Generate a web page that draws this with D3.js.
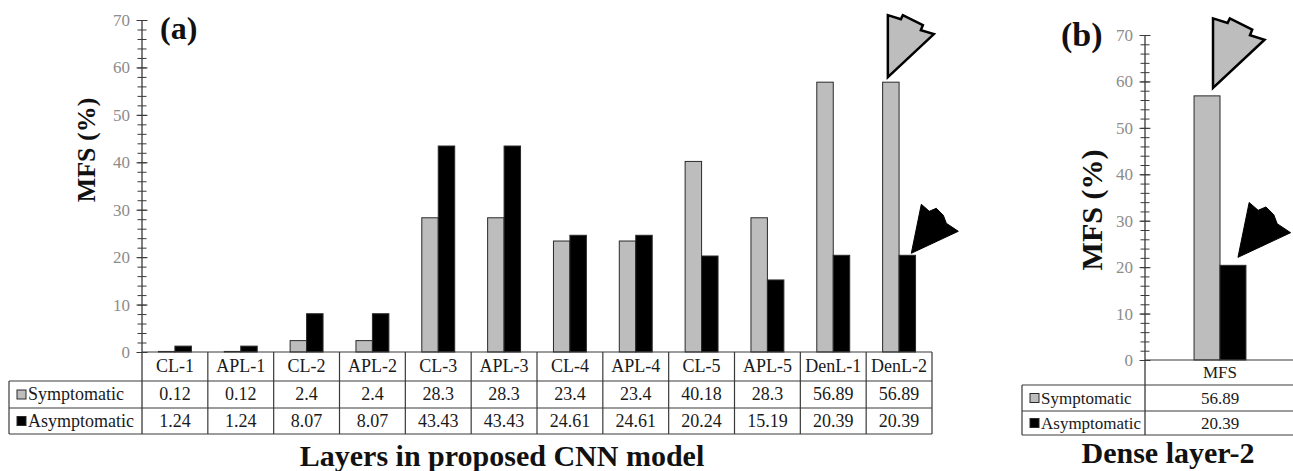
<!DOCTYPE html>
<html>
<head>
<meta charset="utf-8">
<script src="https://cdn.jsdelivr.net/npm/d3@7"></script>
<style>
  html, body { margin: 0; padding: 0; background: #fff; }
  svg { display: block; }
  svg text { font-family: "Liberation Serif", "Times New Roman", serif !important; }
</style>
</head>
<body>
<svg id="chart" width="1293" height="471"></svg>
<script>
// ---- data ----
const layers = ["CL-1", "APL-1", "CL-2", "APL-2", "CL-3", "APL-3", "CL-4", "APL-4", "CL-5", "APL-5", "DenL-1", "DenL-2"];
const symptomatic = [0.12, 0.12, 2.4, 2.4, 28.3, 28.3, 23.4, 23.4, 40.18, 28.3, 56.89, 56.89];
const asymptomatic = [1.24, 1.24, 8.07, 8.07, 43.43, 43.43, 24.61, 24.61, 20.24, 15.19, 20.39, 20.39];
const denseCategories = ["MFS"];
const denseSymptomatic = [56.89];
const denseAsymptomatic = [20.39];
const seriesNames = ["Symptomatic", "Asymptomatic"];
const yTicks = [0, 10, 20, 30, 40, 50, 60, 70];

const svg = d3.select("#chart");
const LINE = "#3a3a3a";
const GREY = "#bdbdbd";
const fills = { Symptomatic: GREY, Asymptomatic: "#000" };

// arrow outline, relative to its tip (pointing down-left)
const greyArrow = [[0, 0], [0, -62], [13, -58], [15, -62], [35, -52], [33, -47], [46, -43]];
const blackArrow = [[0, 0], [10, -49], [18, -42], [25, -45], [32, -38], [35, -30], [47, -22]];

function panel(opt) {
  const g = svg.append("g");
  const y = d3.scaleLinear().domain([0, 70]).range([opt.y0, opt.y70]);
  const x = d3.scaleBand().domain(opt.categories).range([opt.xAxis, opt.xRight]);
  const inner = d3.scaleBand().domain(seriesNames)
    .range([x.bandwidth() * opt.pairStart, x.bandwidth() * opt.pairEnd]);

  const rows = opt.rows; // [top of category row, row1, row2, bottom]

  // minor ticks
  const minor = g.append("g").attr("transform", `translate(${opt.xAxis},0)`)
    .call(d3.axisLeft(y).tickValues(d3.range(0, 71, 2)).tickFormat("").tickSize(0));
  minor.select(".domain").remove();
  minor.selectAll(".tick line").attr("x1", -4.5).attr("x2", 4.5).attr("stroke", LINE);

  // major ticks + labels
  const major = g.append("g").attr("transform", `translate(${opt.xAxis},0)`)
    .call(d3.axisLeft(y).tickValues(yTicks).tickSize(0).tickPadding(12));
  major.attr("font-family", null).attr("font-size", null);
  major.select(".domain").remove();
  major.selectAll(".tick line").attr("x1", -5.5).attr("x2", 5.5).attr("stroke", LINE);
  major.selectAll(".tick text")
    .style("font-size", opt.tickFont + "px").attr("fill", "#8c8c8c");

  // axis line, continues down through the table
  g.append("line").attr("x1", opt.xAxis).attr("x2", opt.xAxis)
    .attr("y1", y(70)).attr("y2", rows[3]).attr("stroke", LINE).attr("stroke-width", 1.3);

  // bars
  const data = [];
  opt.categories.forEach((c, i) => {
    data.push({ cat: c, s: "Symptomatic", v: opt.sym[i] });
    data.push({ cat: c, s: "Asymptomatic", v: opt.asym[i] });
  });
  g.selectAll("rect.bar").data(data).join("rect")
    .attr("class", "bar")
    .attr("x", d => x(d.cat) + inner(d.s))
    .attr("width", inner.bandwidth())
    .attr("y", d => y(d.v))
    .attr("height", d => y(0) - y(d.v))
    .attr("fill", d => fills[d.s])
    .attr("stroke", "#2a2a2a").attr("stroke-width", 1);

  // data table
  const t = g.append("g").attr("stroke", LINE).attr("stroke-width", 1.2);
  t.append("line").attr("x1", opt.xAxis).attr("x2", opt.xRight).attr("y1", rows[0]).attr("y2", rows[0]);
  [1, 2, 3].forEach(r => t.append("line").attr("x1", opt.tableLeft).attr("x2", opt.xRight)
    .attr("y1", rows[r]).attr("y2", rows[r]));
  t.append("line").attr("x1", opt.tableLeft).attr("x2", opt.tableLeft).attr("y1", rows[1]).attr("y2", rows[3]);
  opt.categories.forEach(c => {
    t.append("line").attr("x1", x(c) + x.bandwidth()).attr("x2", x(c) + x.bandwidth())
      .attr("y1", rows[0]).attr("y2", rows[3]);
  });

  const cellText = (txt, cx, r) => g.append("text")
    .attr("x", cx).attr("y", (rows[r] + rows[r + 1]) / 2 + opt.cellFont * 0.33)
    .attr("text-anchor", "middle").attr("font-size", opt.cellFont).attr("fill", "#1a1a1a")
    .text(txt);

  opt.categories.forEach((c, i) => {
    const cx = x(c) + x.bandwidth() / 2;
    cellText(c, cx, 0);
    cellText(String(opt.sym[i]), cx, 1);
    cellText(String(opt.asym[i]), cx, 2);
  });

  // legend keys in the table
  seriesNames.forEach((s, k) => {
    const mid = (rows[k + 1] + rows[k + 2]) / 2;
    g.append("rect").attr("x", opt.tableLeft + opt.keyInset).attr("y", mid - 4.5)
      .attr("width", 9).attr("height", 9)
      .attr("fill", fills[s]).attr("stroke", "#2a2a2a").attr("stroke-width", 1);
    g.append("text").attr("x", opt.tableLeft + opt.keyInset + 11)
      .attr("y", mid + opt.cellFont * 0.33)
      .attr("font-size", opt.cellFont).attr("fill", "#1a1a1a").text(s);
  });

  // y title
  g.append("text")
    .attr("transform", `translate(${opt.yTitleX},${opt.yTitleY}) rotate(-90)`)
    .attr("text-anchor", "middle").attr("font-weight", "bold")
    .attr("font-size", opt.yTitleFont).attr("fill", "#111").text("MFS (%)");

  // x title
  g.append("text").attr("x", opt.xTitleX).attr("y", opt.xTitleY)
    .attr("text-anchor", "middle").attr("font-weight", "bold")
    .attr("font-size", 30).attr("fill", "#111").text(opt.xTitle);

  // panel tag
  g.append("text").attr("x", opt.tagX).attr("y", opt.tagY)
    .attr("font-weight", "bold").attr("font-size", opt.tagFont).attr("fill", "#111").text(opt.tag);

  // arrows pointing at the last group's bars
  const last = opt.categories.length - 1;
  const lastCat = opt.categories[last];
  const sx = x(lastCat) + inner("Symptomatic") + inner.bandwidth() / 2 + opt.greyDx;
  const sy = y(opt.sym[last]) - opt.greyGap;
  const ax = x(lastCat) + inner("Asymptomatic") + inner.bandwidth() / 2 + opt.blackDx;
  const ay = y(opt.asym[last]) - opt.blackGap;
  const toPath = (pts, tx, ty, k) => "M" + pts.map(p => [tx + p[0] * k, ty + p[1] * k].join(",")).join("L") + "Z";
  g.append("path").attr("d", toPath(greyArrow, sx, sy, opt.arrowScale))
    .attr("fill", GREY).attr("stroke", "#000").attr("stroke-width", 2.5).attr("stroke-linejoin", "miter");
  g.append("path").attr("d", toPath(blackArrow, ax, ay, opt.arrowScale))
    .attr("fill", "#000").attr("stroke", "#000").attr("stroke-width", 1);
}

// (a) all layers
panel({
  categories: layers, sym: symptomatic, asym: asymptomatic,
  xAxis: 142, xRight: 932, tableLeft: 9, y0: 352, y70: 20,
  rows: [352, 381, 408, 434], pairStart: 0.25, pairEnd: 0.75,
  tickFont: 17, cellFont: 18, keyInset: 8,
  yTitleX: 95, yTitleY: 150, yTitleFont: 26,
  xTitle: "Layers in proposed CNN model", xTitleX: 502, xTitleY: 466,
  tag: "(a)", tagX: 160, tagY: 39, tagFont: 32,
  greyDx: -3, greyGap: 5, blackDx: 4, blackGap: 2, arrowScale: 1
});

// (b) dense layer-2
panel({
  categories: denseCategories, sym: denseSymptomatic, asym: denseAsymptomatic,
  xAxis: 1145, xRight: 1295, tableLeft: 1022, y0: 360, y70: 35,
  rows: [360, 385, 411, 435], pairStart: 0.327, pairEnd: 0.673,
  tickFont: 17, cellFont: 17, keyInset: 8,
  yTitleX: 1102, yTitleY: 210, yTitleFont: 30,
  xTitle: "Dense layer-2", xTitleX: 1168, xTitleY: 463,
  tag: "(b)", tagX: 1061, tagY: 46, tagFont: 34,
  greyDx: 6, greyGap: 8, blackDx: 5, blackGap: 8, arrowScale: 1.12
});
</script>
</body>
</html>
